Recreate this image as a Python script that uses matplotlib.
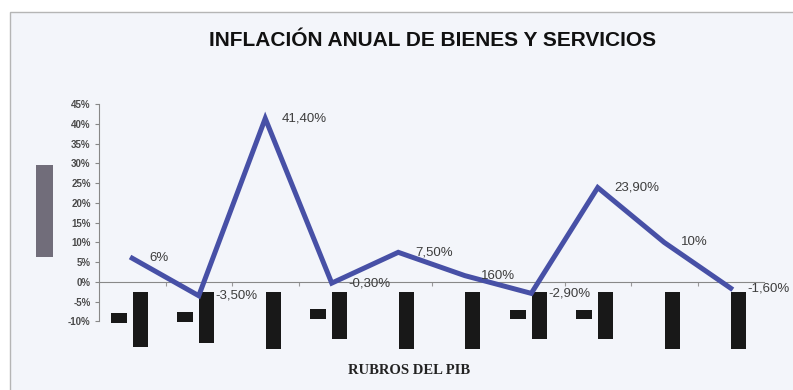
import numpy as np
import matplotlib.pyplot as plt
from matplotlib.patches import Rectangle

# datos
rubros = list(range(10))
inflacion = [6, -3.5, 41.4, -0.3, 7.5, 1.6, -2.9, 23.9, 10, -1.6]
etiquetas = ['6%', '-3,50%', '41,40%', '-0,30%', '7,50%', '160%', '-2,90%', '23,90%', '10%', '-1,60%']
barra_top = [-2.5] * 10
barra_fondo = [-16.5, -15.4, -17, -14.4, -17, -17, -14.4, -14.4, -17, -17]
chica_rubros = [0, 1, 3, 6, 7]
chica_top = [-7.8, -7.6, -6.8, -7.1, -7.1]
chica_fondo = [-10.4, -10.1, -9.4, -9.4, -9.4]
yticks = list(range(-10, 50, 5))

W, H = 793, 390
fig = plt.figure(figsize=(W / 100, H / 100), dpi=100)
fig.patch.set_facecolor('white')
plt.rcParams['font.family'] = ['Liberation Sans', 'DejaVu Sans']

# marco del grafico
fig.patches.append(Rectangle((10 / W, -0.01), 1.0, 1 - 12 / H + 0.01, transform=fig.transFigure,
                             facecolor='#f3f5fa', edgecolor='#b5b5b5', lw=1.0, zorder=-2))
# bloque gris de la izquierda
fig.patches.append(Rectangle((36 / W, 1 - 257 / H), 17 / W, 92 / H, transform=fig.transFigure,
                             facecolor='#716d7a', edgecolor='none', zorder=-1))

ax = fig.add_axes([99 / W, 0.0949, 665 / W, 0.6479])
ax.set_facecolor('none')
x = np.array(rubros)

alto = np.array(barra_fondo) - np.array(barra_top)
ax.bar(x + 0.12, alto, bottom=barra_top, width=0.225, color='#181818', zorder=2)
ax.bar(np.array(chica_rubros) - 0.2, np.array(chica_fondo) - np.array(chica_top), bottom=chica_top,
       width=0.24, color='#181818', zorder=2)

ax.plot(x, inflacion, color='#4750a6', lw=3.6, solid_joinstyle='miter', zorder=3)
for xi, yi, t in zip(x, inflacion, etiquetas):
    ax.annotate(t, (xi, yi), xytext=(12, 0), textcoords='offset points', va='center', ha='left',
                fontsize=9.5, color='#3d3d3d', zorder=4)

ax.set_xlim(-0.5, 9.5)
ax.set_ylim(-18, 46)
ax.set_yticks(yticks)
ax.set_yticklabels([f'{v}%' for v in yticks], fontsize=7, fontweight='bold', color='#4a4a4a')
ax.set_xticks(np.arange(0.5, 9, 1))
ax.set_xticklabels([])
ax.tick_params(axis='y', length=3, color='#888888', pad=3)
ax.tick_params(axis='x', length=3, color='#999999', direction='out')
for s in ['top', 'right']:
    ax.spines[s].set_visible(False)
ax.spines['left'].set_bounds(-10, 45)
ax.spines['left'].set_color('#888888')
ax.spines['bottom'].set_position(('data', 0))
ax.spines['bottom'].set_color('#888888')
ax.spines['bottom'].set_linewidth(0.8)

fig.text(0.545, 1 - 40 / H, 'INFLACIÓN ANUAL DE BIENES Y SERVICIOS', ha='center', va='center',
         fontsize=15, fontweight='bold', color='#111111')
fig.text(0.516, 1 - 370 / H, 'RUBROS DEL PIB', ha='center', va='center', fontsize=10.5,
         fontweight='bold', family='Liberation Serif', color='#222222')

fig.savefig('out.png', dpi=100)
